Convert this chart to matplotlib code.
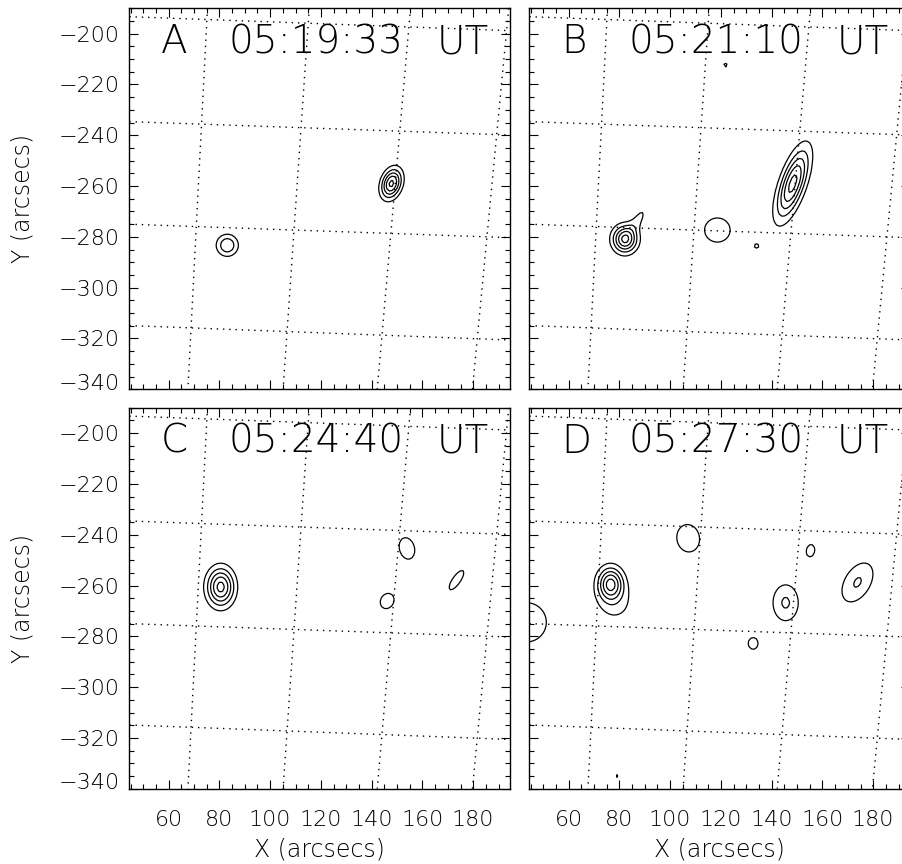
import numpy as np
import matplotlib
matplotlib.use('Agg')
import matplotlib.pyplot as plt
from matplotlib.ticker import MultipleLocator, FixedLocator
import matplotlib.transforms as mtransforms

# ---------------- data ----------------
x_range = [44.5, 194.5]
y_range = [-340.0, -190.0]
x_major_ticks = [60, 80, 100, 120, 140, 160, 180]
y_major_ticks = [-340, -320, -300, -280, -260, -240, -220, -200]

panel_letters = ['A', 'B', 'C', 'D']
panel_times = ['05:19:33', '05:21:10', '05:24:40', '05:27:30']

# heliographic grid (dotted), values read at the axes edges
lat_line_y_left = [-193.3, -234.6, -275.0, -314.9]
lat_line_y_right = [-198.8, -239.9, -280.3, -320.6]
lon_line_x_top = [75.3, 115.4, 155.3, 194.0]
lon_line_x_bottom = [67.6, 105.1, 142.2, 179.7]

contour_levels = [1, 2, 3, 4, 5]

# sources: x, y, peak, sigma along angle, sigma across angle, angle (deg)
src_A_x = [83.1, 147.8]
src_A_y = [-283.3, -259.0]
src_A_peak = [2.97, 5.3]
src_A_smaj = [2.95, 4.05]
src_A_smin = [2.95, 2.56]
src_A_ang = [0, 72]

src_B_x = [82.2, 87.5, 118.6, 148.3, 121.8, 134.0]
src_B_y = [-280.9, -273.0, -277.3, -259.0, -212.3, -283.6]
src_B_peak = [5.3, 1.2, 1.6, 5.4, 1.05, 1.05]
src_B_smaj = [3.6, 5.0, 5.2, 9.6, 2.5, 2.5]
src_B_smin = [3.3, 1.8, 4.9, 3.1, 2.5, 2.5]
src_B_ang = [90, 58, 0, 71, 90, 0]

src_C_x = [80.5, 153.9, 146.1, 173.4]
src_C_y = [-260.6, -245.4, -266.1, -257.9]
src_C_peak = [5.4, 1.5, 1.3, 1.15]
src_C_smaj = [5.1, 4.8, 4.35, 8.7]
src_C_smin = [3.65, 3.3, 3.6, 3.0]
src_C_ang = [90, 105, 60, 55]

src_D_x = [76.5, 78.5, 43.5, 107.1, 145.5, 155.3, 173.8, 132.7, 79.3]
src_D_y = [-259.3, -267.5, -274.5, -241.4, -266.8, -246.3, -258.8, -282.8, -335.0]
src_D_peak = [5.2, 1.15, 1.9, 1.6, 2.15, 1.3, 2.1, 1.3, 1.05]
src_D_smaj = [4.4, 6.0, 6.8, 5.6, 5.7, 3.4, 6.9, 3.2, 3.0]
src_D_smin = [3.4, 6.0, 6.8, 4.6, 4.0, 2.3, 4.1, 2.7, 1.5]
src_D_ang = [90, 90, 90, 100, 90, 80, 59, 90, 90]

panel_sources = [
    (src_A_x, src_A_y, src_A_peak, src_A_smaj, src_A_smin, src_A_ang),
    (src_B_x, src_B_y, src_B_peak, src_B_smaj, src_B_smin, src_B_ang),
    (src_C_x, src_C_y, src_C_peak, src_C_smaj, src_C_smin, src_C_ang),
    (src_D_x, src_D_y, src_D_peak, src_D_smaj, src_D_smin, src_D_ang),
]

# ---------------- figure ----------------
W, H = 903, 864
DPI = 100
plt.rcParams['font.family'] = ['DejaVu Sans']
plt.rcParams['font.weight'] = 200
fig = plt.figure(figsize=(W / DPI, H / DPI), dpi=DPI)

# pixel boxes: left, top ; width, height
pw, ph = 380.7, 381.0
boxes = [(129.3, 8.3), (529.3, 8.3), (129.3, 407.7), (529.3, 407.7)]

gx = np.arange(25.0, 215.0, 1.0)
gy = np.arange(-365.0, -165.0, 1.0)
GX, GY = np.meshgrid(gx, gy)

GRID_STYLE = dict(color='black', lw=1.0, ls=(0, (1, 3.5)))

for i, (lx, ty) in enumerate(boxes):
    ax = fig.add_axes([lx / W, 1 - (ty + ph) / H, pw / W, ph / H])
    ax.set_xlim(*x_range)
    ax.set_ylim(*y_range)

    # heliographic grid
    for yl, yr in zip(lat_line_y_left, lat_line_y_right):
        ax.plot(x_range, [yl, yr], **GRID_STYLE)
    for xt, xb in zip(lon_line_x_top, lon_line_x_bottom):
        ax.plot([xt, xb], [y_range[1], y_range[0]], **GRID_STYLE)

    # contours
    sx, sy, sp, sa, sb, sang = panel_sources[i]
    Z = np.zeros_like(GX)
    for x0, y0, p, a, b, ang in zip(sx, sy, sp, sa, sb, sang):
        t = np.deg2rad(ang)
        u = (GX - x0) * np.cos(t) + (GY - y0) * np.sin(t)
        v = -(GX - x0) * np.sin(t) + (GY - y0) * np.cos(t)
        Z += p * np.exp(-0.5 * ((u / a) ** 2 + (v / b) ** 2))
    ax.contour(GX, GY, Z, levels=contour_levels, colors='black', linewidths=0.9)

    # panel annotation
    ax.text(57.0, -207.7, panel_letters[i], fontsize=28, ha='left', va='baseline')
    ax.text(83.75, -207.7, panel_times[i], fontsize=28, ha='left', va='baseline')
    ax.text(165.6, -207.7, 'UT', fontsize=28, ha='left', va='baseline')

    # ticks
    ax.xaxis.set_major_locator(FixedLocator(x_major_ticks))
    ax.yaxis.set_major_locator(FixedLocator(y_major_ticks))
    ax.xaxis.set_minor_locator(MultipleLocator(5))
    ax.yaxis.set_minor_locator(MultipleLocator(5))
    ax.tick_params(which='both', direction='in', top=True, right=True,
                   width=0.8, color='black', labelsize=16)
    ax.tick_params(which='major', length=6.5)
    ax.tick_params(which='minor', length=3.6)
    ax.tick_params(axis='x', pad=15)
    ax.tick_params(axis='y', pad=7)
    for s in ax.spines.values():
        s.set_linewidth(1.0)
    if i in (0, 1):
        ax.tick_params(labelbottom=False)
    if i in (1, 3):
        ax.tick_params(labelleft=False)
    if i in (0, 2):
        lab = ax.yaxis.get_major_ticks()[0].label1
        lab.set_transform(lab.get_transform() +
                          mtransforms.ScaledTranslation(0, 7.5 / DPI, fig.dpi_scale_trans))

fig.text(23 / W, 1 - 198 / H, 'Y (arcsecs)', rotation=90, ha='center', va='center', fontsize=17)
fig.text(23 / W, 1 - 598 / H, 'Y (arcsecs)', rotation=90, ha='center', va='center', fontsize=17)
fig.text(319.7 / W, 1 - 849 / H, 'X (arcsecs)', ha='center', va='center', fontsize=17)
fig.text(719.7 / W, 1 - 849 / H, 'X (arcsecs)', ha='center', va='center', fontsize=17)

fig.savefig('out.png', dpi=DPI)
